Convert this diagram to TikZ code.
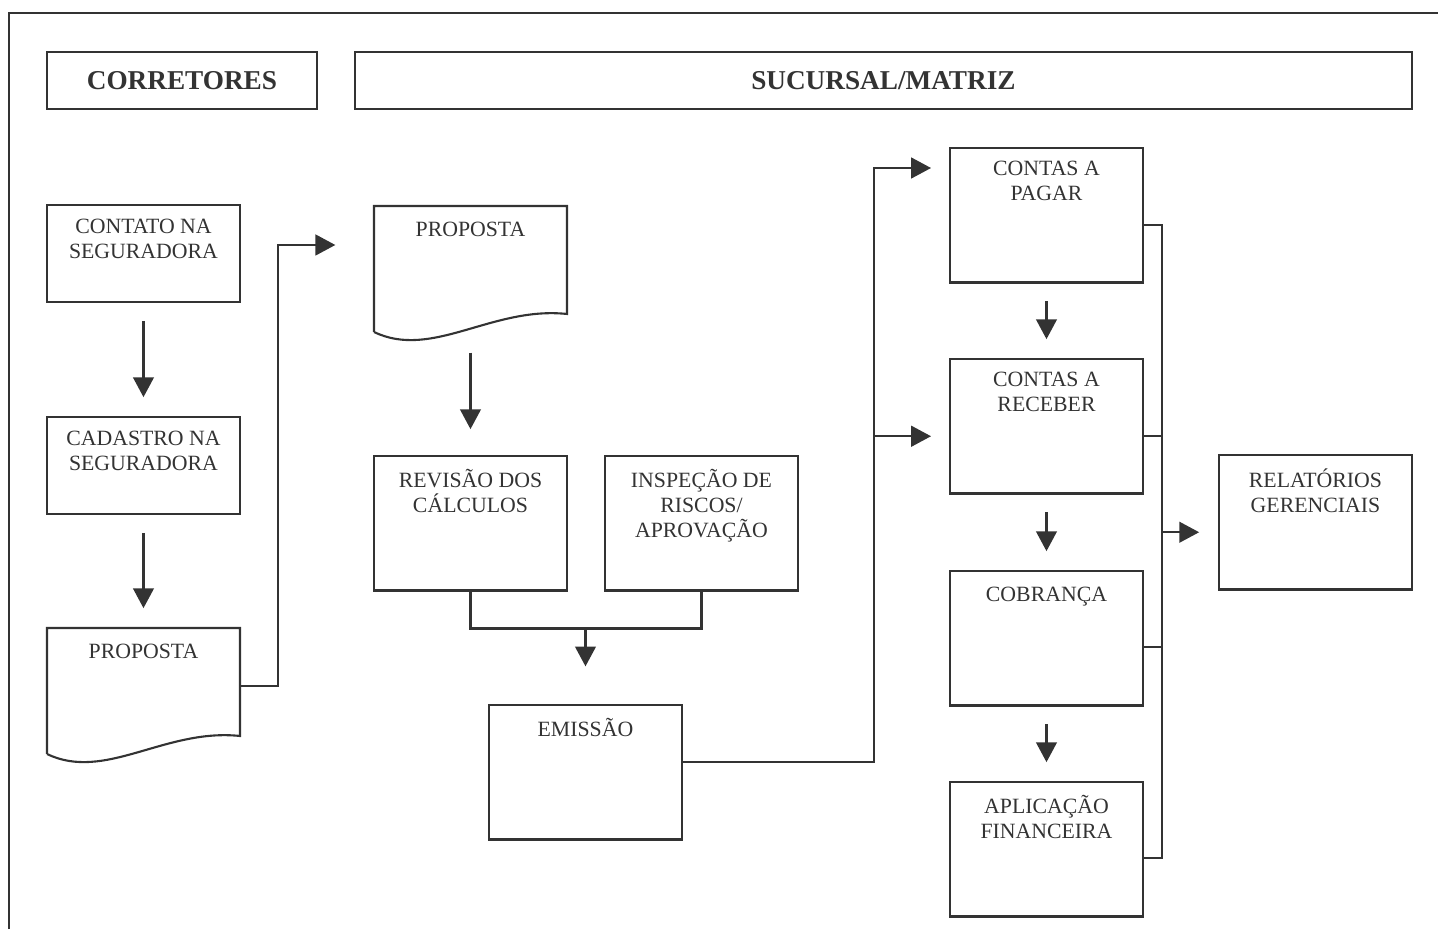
\documentclass[tikz,border=0pt]{standalone}
\usepackage{fontspec}
\setmainfont{Liberation Serif}
\usetikzlibrary{positioning,calc,arrows.meta}
\definecolor{tinta}{HTML}{333333}

\begin{document}
\begin{tikzpicture}[x=0.02cm,y=-0.02cm,
    linha/.style={draw=tinta,line width=1.2pt},
    seta/.style={linha,-{Triangle[length=11.3pt,width=11.8pt]}},
    cabeca/.style={draw=tinta,line width=1.2pt,minimum height=1.14cm,inner sep=0pt,outer sep=0pt,
      anchor=north west,text=tinta,font=\fontsize{15.5}{18}\selectfont\bfseries},
    caixa/.style={draw=tinta,line width=1.2pt,minimum width=3.86cm,minimum height=2.69cm,
      inner sep=0pt,outer sep=0pt,anchor=north west},
    doc/.style={minimum width=3.86cm,minimum height=2.16cm,inner sep=0pt,outer sep=0pt,anchor=north west},
    rotulo/.style={font=\fontsize{12.4}{14.3}\selectfont,text=tinta,align=center,inner sep=0pt,
      execute at begin node=\strut}]
  \useasboundingbox (0,0) rectangle (1439,929);
  \draw[linha] (9,929) -- (9,13) -- (1438,13);

  \node[cabeca,minimum width=5.4cm] (corretores) at (47,52) {CORRETORES};
  \node[cabeca,minimum width=21.14cm] (sucursal) at (355,52) {SUCURSAL/MATRIZ};

  % corretores
  \node[caixa,minimum height=1.94cm] (contato) at (47,205) {};
  \node[rotulo,below=8pt of contato.north] (contato-t) {CONTATO NA\\SEGURADORA};
  \node[caixa,minimum height=1.94cm] (cadastro) at (47,417) {};
  \node[rotulo,below=8pt of cadastro.north] (cadastro-t) {CADASTRO NA\\SEGURADORA};
  \node[doc] (proposta1) at (47,628) {};
  \draw[linha] ($(proposta1.south west)+(0,18)$) -- (proposta1.north west) -- (proposta1.north east)
    -- (proposta1.south east) .. controls +(-75,-8) and +(58,28) .. ($(proposta1.south west)+(0,18)$);
  \node[rotulo,below=7.4pt of proposta1.north] (proposta1-t) {PROPOSTA};

  % sucursal/matriz
  \node[doc] (proposta2) at (374,206) {};
  \draw[linha] ($(proposta2.south west)+(0,18)$) -- (proposta2.north west) -- (proposta2.north east)
    -- (proposta2.south east) .. controls +(-75,-8) and +(58,28) .. ($(proposta2.south west)+(0,18)$);
  \node[rotulo,below=7.4pt of proposta2.north] (proposta2-t) {PROPOSTA};
  \node[caixa] (revisao) at (374,456) {};
  \node[rotulo,below=7.4pt of revisao.north] (revisao-t) {REVISÃO DOS\\CÁLCULOS};
  \node[caixa] (inspecao) at (605,456) {};
  \node[rotulo,below=7.4pt of inspecao.north] (inspecao-t) {INSPEÇÃO DE\\RISCOS/\\APROVAÇÃO};
  \node[caixa] (emissao) at (489,705) {};
  \node[rotulo,below=7.4pt of emissao.north] (emissao-t) {EMISSÃO};

  \node[caixa] (pagar) at (950,148) {};
  \node[rotulo,below=7.4pt of pagar.north] (pagar-t) {CONTAS A\\PAGAR};
  \node[caixa] (receber) at (950,359) {};
  \node[rotulo,below=7.4pt of receber.north] (receber-t) {CONTAS A\\RECEBER};
  \node[caixa] (cobranca) at (950,571) {};
  \node[rotulo,below=7.4pt of cobranca.north] (cobranca-t) {COBRANÇA};
  \node[caixa] (aplicacao) at (950,782) {};
  \node[rotulo,below=7.4pt of aplicacao.north] (aplicacao-t) {APLICAÇÃO\\FINANCEIRA};
  \node[caixa] (relatorios) at (1219,455) {};
  \node[rotulo,below=7.4pt of relatorios.north] (relatorios-t) {RELATÓRIOS\\GERENCIAIS};

  % fluxo
  \draw[seta,shorten <=10.8pt,shorten >=11.3pt] (contato) -- (cadastro);
  \draw[seta,shorten <=10.8pt,shorten >=11.3pt] (cadastro) -- (proposta1);
  \draw[seta,shorten >=22pt] ($(proposta1.east)+(0,4)$) -- ++(38,0) |- ($(proposta2.west)+(0,-15)$);
  \draw[seta,shorten <=22pt,shorten >=15.3pt] (proposta2) -- (revisao);

  \coordinate (junta) at ($(revisao.south)+(0,38)$);
  \draw[linha] (revisao.south) -- (junta) -| (inspecao.south);
  \draw[seta,shorten >=22pt] (emissao.north |- junta) -- (emissao);

  \draw[seta,shorten >=10.8pt] ($(emissao.east)+(0,-10)$) -| ($(pagar.north west)+(-76,20)$)
    -- ($(pagar.north west)+(0,20)$);
  \draw[seta,shorten >=10.8pt] ($(receber.west)+(-76,10)$) -- ($(receber.west)+(0,10)$);

  \draw[seta,shorten <=10.8pt,shorten >=11.3pt] (pagar) -- (receber);
  \draw[seta,shorten <=10.8pt,shorten >=11.3pt] (receber) -- (cobranca);
  \draw[seta,shorten <=10.8pt,shorten >=11.3pt] (cobranca) -- (aplicacao);

  \draw[linha] ($(pagar.east)+(0,10)$) -| ($(aplicacao.east)+(19,9)$) -- ($(aplicacao.east)+(0,9)$);
  \draw[linha] ($(receber.east)+(0,10)$) -- ++(19,0);
  \draw[linha] ($(cobranca.east)+(0,9)$) -- ++(19,0);
  \draw[seta,shorten >=11.3pt] ($(relatorios.west)+(-57,10)$) -- ($(relatorios.west)+(0,10)$);
\end{tikzpicture}
\end{document}
